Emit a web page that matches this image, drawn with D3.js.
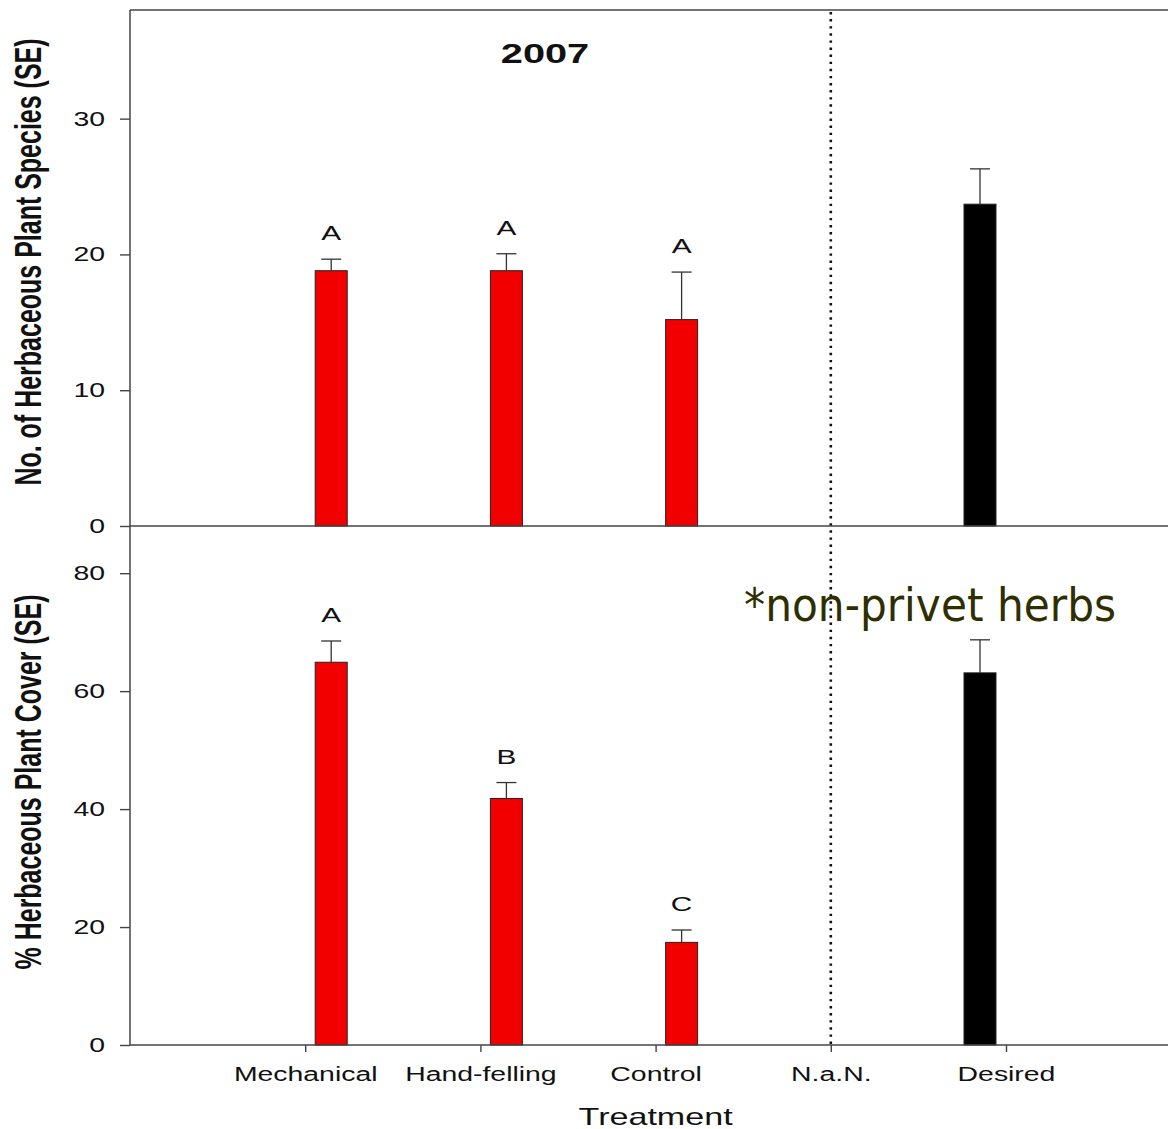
<!DOCTYPE html>
<html>
<head>
<meta charset="utf-8">
<script src="https://cdn.jsdelivr.net/npm/d3@7"></script>
<style>
  body { margin: 0; background: #fff; }
  svg { display: block; }
  text { font-family: "Liberation Sans", Arial, sans-serif; fill: #111; }
</style>
</head>
<body>
<svg id="chart" width="1168" height="1129"></svg>
<script>
// values
var categories = ["Mechanical", "Hand-felling", "Control", "N.a.N.", "Desired"];
var seriesOf = ["treatment", "treatment", "treatment", null, "desired"];
var speciesMean = [18.8, 18.8, 15.2, null, 23.7];
var speciesSE = [0.85, 1.25, 3.5, null, 2.6];
var speciesLetters = ["A", "A", "A", null, null];
var coverMean = [64.9, 41.8, 17.4, null, 63.1];
var coverSE = [3.6, 2.7, 2.1, null, 5.6];
var coverLetters = ["A", "B", "C", null, null];
var speciesTicks = [0, 10, 20, 30];
var coverTicks = [0, 20, 40, 60, 80];

var colors = {treatment: "#f20000", desired: "#000000"};
var stretch = "scale(1.42,1)";   // the original figure is stretched sideways

var svg = d3.select("#chart");
var padLeft = 130, padTop = 10, midY = 526, baseY = 1045;

var x = d3.scaleLinear()
          .domain([0, 6])
          .range([padLeft, padLeft + 6 * 175.2]);

var sub = d3.scaleBand()
            .domain(["desired", "treatment"])
            .range([-42, 42])
            .paddingInner(0.385);

var ySpecies = d3.scaleLinear().domain([0, 38]).range([midY, padTop]);
var yCover = d3.scaleLinear().domain([0, 88]).range([baseY, midY]);

var rows = categories.map(function(c, i) {
	return {cat: c, idx: i + 1, series: seriesOf[i],
		sp: speciesMean[i], spSE: speciesSE[i], spL: speciesLetters[i],
		cv: coverMean[i], cvSE: coverSE[i], cvL: coverLetters[i]};
}).filter(function(d) { return d.series; });

function panel(y, ticks, key, seKey, letKey) {
	var g = svg.append("g");

	var yaxis = d3.axisLeft(y).tickValues(ticks).tickSize(10).tickSizeOuter(0);
	var ax = g.append("g")
		.attr("transform", "translate(" + padLeft + ",0)")
		.call(yaxis);
	ax.select(".domain").remove();
	ax.selectAll("line").attr("stroke", "#444").attr("stroke-width", 1.4);
	ax.selectAll("text")
		.attr("x", 0)
		.attr("transform", "translate(-25,0) " + stretch)
		.style("font-size", "20px")
		.attr("fill", "#222");

	var bw = sub.bandwidth();
	g.selectAll("rect.bar")
		.data(rows)
		.enter().append("rect")
			.attr("class", "bar")
			.attr("x", function(d) { return x(d.idx) + sub(d.series); })
			.attr("width", bw)
			.attr("y", function(d) { return y(d[key]); })
			.attr("height", function(d) { return y(0) - y(d[key]); })
			.attr("fill", function(d) { return colors[d.series]; })
			.attr("stroke", "#222")
			.attr("stroke-width", 1);

	var eb = g.selectAll("g.err")
		.data(rows)
		.enter().append("g")
			.attr("class", "err")
			.attr("transform", function(d) {
				return "translate(" + (x(d.idx) + sub(d.series) + bw / 2) + ",0)";
			});
	eb.append("line")
		.attr("y1", function(d) { return y(d[key]); })
		.attr("y2", function(d) { return y(d[key] + d[seKey]); })
		.attr("stroke", "#333").attr("stroke-width", 1.3);
	eb.append("line")
		.attr("x1", -10).attr("x2", 10)
		.attr("y1", function(d) { return y(d[key] + d[seKey]); })
		.attr("y2", function(d) { return y(d[key] + d[seKey]); })
		.attr("stroke", "#333").attr("stroke-width", 1.3);
	eb.filter(function(d) { return d[letKey]; })
		.append("text")
			.attr("text-anchor", "middle")
			.attr("transform", function(d) {
				return "translate(0," + (y(d[key] + d[seKey]) - 19) + ") " + stretch;
			})
			.style("font-size", "21px")
			.text(function(d) { return d[letKey]; });

	// x axis line of this panel
	g.append("line")
		.attr("x1", padLeft).attr("x2", x(6))
		.attr("y1", y(0)).attr("y2", y(0))
		.attr("stroke", "#444").attr("stroke-width", 1.5);
}

panel(ySpecies, speciesTicks, "sp", "spSE", "spL");
panel(yCover, coverTicks, "cv", "cvSE", "cvL");

// frame: top and left
svg.append("line")
	.attr("x1", padLeft).attr("x2", x(6)).attr("y1", padTop).attr("y2", padTop)
	.attr("stroke", "#444").attr("stroke-width", 1.5);
svg.append("line")
	.attr("x1", padLeft).attr("x2", padLeft).attr("y1", padTop).attr("y2", baseY)
	.attr("stroke", "#444").attr("stroke-width", 1.5);

// bottom category axis
var xaxis = d3.axisBottom(x)
	.tickValues(d3.range(1, categories.length + 1))
	.tickFormat(function(d) { return categories[d - 1]; })
	.tickSize(7).tickSizeOuter(0);
var xa = svg.append("g")
	.attr("transform", "translate(0," + baseY + ")")
	.call(xaxis);
xa.select(".domain").remove();
xa.selectAll("line").attr("stroke", "#444").attr("stroke-width", 1.4);
xa.selectAll("text")
	.attr("y", 0).attr("dy", 0)
	.attr("transform", "translate(0,36) " + stretch)
	.style("font-size", "20px")
	.attr("fill", "#222");

// dotted divider at N.a.N.
svg.append("line")
	.attr("x1", x(4)).attr("x2", x(4))
	.attr("y1", padTop + 2).attr("y2", baseY)
	.attr("stroke", "#111")
	.attr("stroke-width", 2.6)
	.attr("stroke-dasharray", "2.4,4.7");

// titles
svg.append("text")
	.attr("text-anchor", "middle")
	.attr("transform", "translate(545,63) " + stretch)
	.style("font-size", "28px").style("font-weight", "bold")
	.text("2007");

svg.append("text")
	.attr("text-anchor", "middle")
	.attr("transform", "translate(" + x(3) + ",1125) " + stretch)
	.style("font-size", "24px")
	.text("Treatment");

svg.append("text")
	.attr("text-anchor", "middle")
	.attr("transform", "translate(41,262) rotate(-90) scale(1,1.45)")
	.style("font-size", "25px").style("font-weight", "bold")
	.text("No. of Herbaceous Plant Species (SE)");

svg.append("text")
	.attr("text-anchor", "middle")
	.attr("transform", "translate(41,782) rotate(-90) scale(1,1.45)")
	.style("font-size", "25px").style("font-weight", "bold")
	.text("% Herbaceous Plant Cover (SE)");

svg.append("text")
	.attr("transform", "translate(744,621) scale(0.9,1)")
	.style("font-family", "'DejaVu Sans', Verdana, sans-serif")
	.style("font-size", "47px")
	.style("fill", "#2e2e00")
	.text("*non-privet herbs");
</script>
</body>
</html>
